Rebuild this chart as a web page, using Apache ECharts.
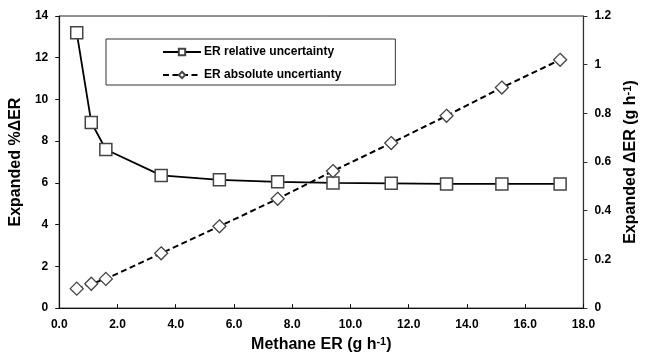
<!DOCTYPE html>
<html>
<head>
<meta charset="utf-8">
<script src="https://cdn.jsdelivr.net/npm/echarts@6/dist/echarts.min.js"></script>
<style>
html,body{margin:0;padding:0;background:#fff;}
#chart{width:647px;height:358px;}
</style>
</head>
<body>
<div id="chart"></div>
<script>
const methaneER = [0.6, 1.1, 1.6, 3.5, 5.5, 7.5, 9.4, 11.4, 13.3, 15.2, 17.2];
const relativeUncertainty = [13.2, 8.9, 7.6, 6.36, 6.15, 6.05, 6.0, 5.98, 5.95, 5.95, 5.95];
const absoluteUncertainty = [0.08, 0.10, 0.12, 0.225, 0.336, 0.449, 0.563, 0.678, 0.79, 0.906, 1.02];
const seriesNames = ['ER relative uncertainty', 'ER absolute uncertianty'];

const FONT = '"Liberation Sans", Arial, sans-serif';
const chart = echarts.init(document.getElementById('chart'), null, {renderer: 'canvas'});

const nameRich = {
  a: {fontFamily: FONT, fontWeight: 'bold', fontSize: 16, color: '#000', lineHeight: 18},
  s: {fontFamily: FONT, fontWeight: 'bold', fontSize: 11, color: '#000', verticalAlign: 'top', lineHeight: 18, padding: [0, 0, 6, 0]}
};

chart.setOption({
  animation: false,
  backgroundColor: '#fff',
  grid: {left: 57, right: 52, top: 16, bottom: 43, show: true, borderColor: '#222', borderWidth: 1, backgroundColor: 'transparent'},
  legend: {
    orient: 'vertical',
    left: 106,
    top: 39,
    padding: [7, 54, 4, 56],
    itemGap: 11,
    itemWidth: 38,
    itemHeight: 8,
    borderColor: '#333',
    borderWidth: 1,
    backgroundColor: '#fff',
    textStyle: {fontFamily: FONT, fontWeight: 'bold', fontSize: 12, color: '#000', padding: [0, 0, 0, -2]},
    data: seriesNames
  },
  xAxis: {
    type: 'value',
    min: 0, max: 18, interval: 2,
    name: '{a|Methane ER (g h}{s|-1}{a|)}',
    nameLocation: 'middle',
    nameGap: 27,
    nameTextStyle: {rich: nameRich},
    axisLine: {lineStyle: {color: '#111', width: 1.2}},
    axisTick: {inside: true, length: 4, lineStyle: {color: '#111'}},
    axisLabel: {fontFamily: FONT, fontWeight: 'bold', fontSize: 12, color: '#000', margin: 11, formatter: v => v.toFixed(1)},
    splitLine: {show: false}
  },
  yAxis: [{
    type: 'value',
    min: 0, max: 14, interval: 2,
    name: '{a|Expanded %ΔER}',
    nameLocation: 'middle',
    nameGap: 30,
    nameTextStyle: {rich: nameRich},
    axisLine: {show: true, lineStyle: {color: '#111', width: 1.2}},
    axisTick: {show: true, length: 4, lineStyle: {color: '#111'}},
    axisLabel: {fontFamily: FONT, fontWeight: 'bold', fontSize: 12, color: '#000', margin: 11},
    splitLine: {show: false}
  }, {
    type: 'value',
    position: 'right',
    min: 0, max: 1.2, interval: 0.2,
    name: '{a|Expanded ΔER (g h}{s|-1}{a|)}',
    nameLocation: 'middle',
    nameGap: 36,
    nameRotate: 90,
    nameTextStyle: {rich: nameRich},
    axisLine: {show: true, lineStyle: {color: '#333', width: 1.2}},
    axisTick: {show: true, length: 4, lineStyle: {color: '#333'}},
    axisLabel: {fontFamily: FONT, fontWeight: 'bold', fontSize: 12, color: '#000', margin: 11,
      formatter: v => String(Math.round(v * 10) / 10)},
    splitLine: {show: false}
  }],
  series: [{
    name: seriesNames[0],
    type: 'line',
    yAxisIndex: 0,
    data: methaneER.map((x, i) => [x, relativeUncertainty[i]]),
    symbol: 'rect',
    symbolSize: 12,
    lineStyle: {color: '#000', width: 1.8, type: 'solid'},
    itemStyle: {color: '#fff', borderColor: '#444', borderWidth: 1.5},
    z: 3
  }, {
    name: seriesNames[1],
    type: 'line',
    yAxisIndex: 1,
    data: methaneER.map((x, i) => [x, absoluteUncertainty[i]]),
    symbol: 'diamond',
    symbolSize: 13,
    lineStyle: {color: '#000', width: 2, type: [6, 3.5]},
    itemStyle: {color: '#fff', borderColor: '#444', borderWidth: 1.3},
    z: 4
  }]
});
</script>
</body>
</html>
